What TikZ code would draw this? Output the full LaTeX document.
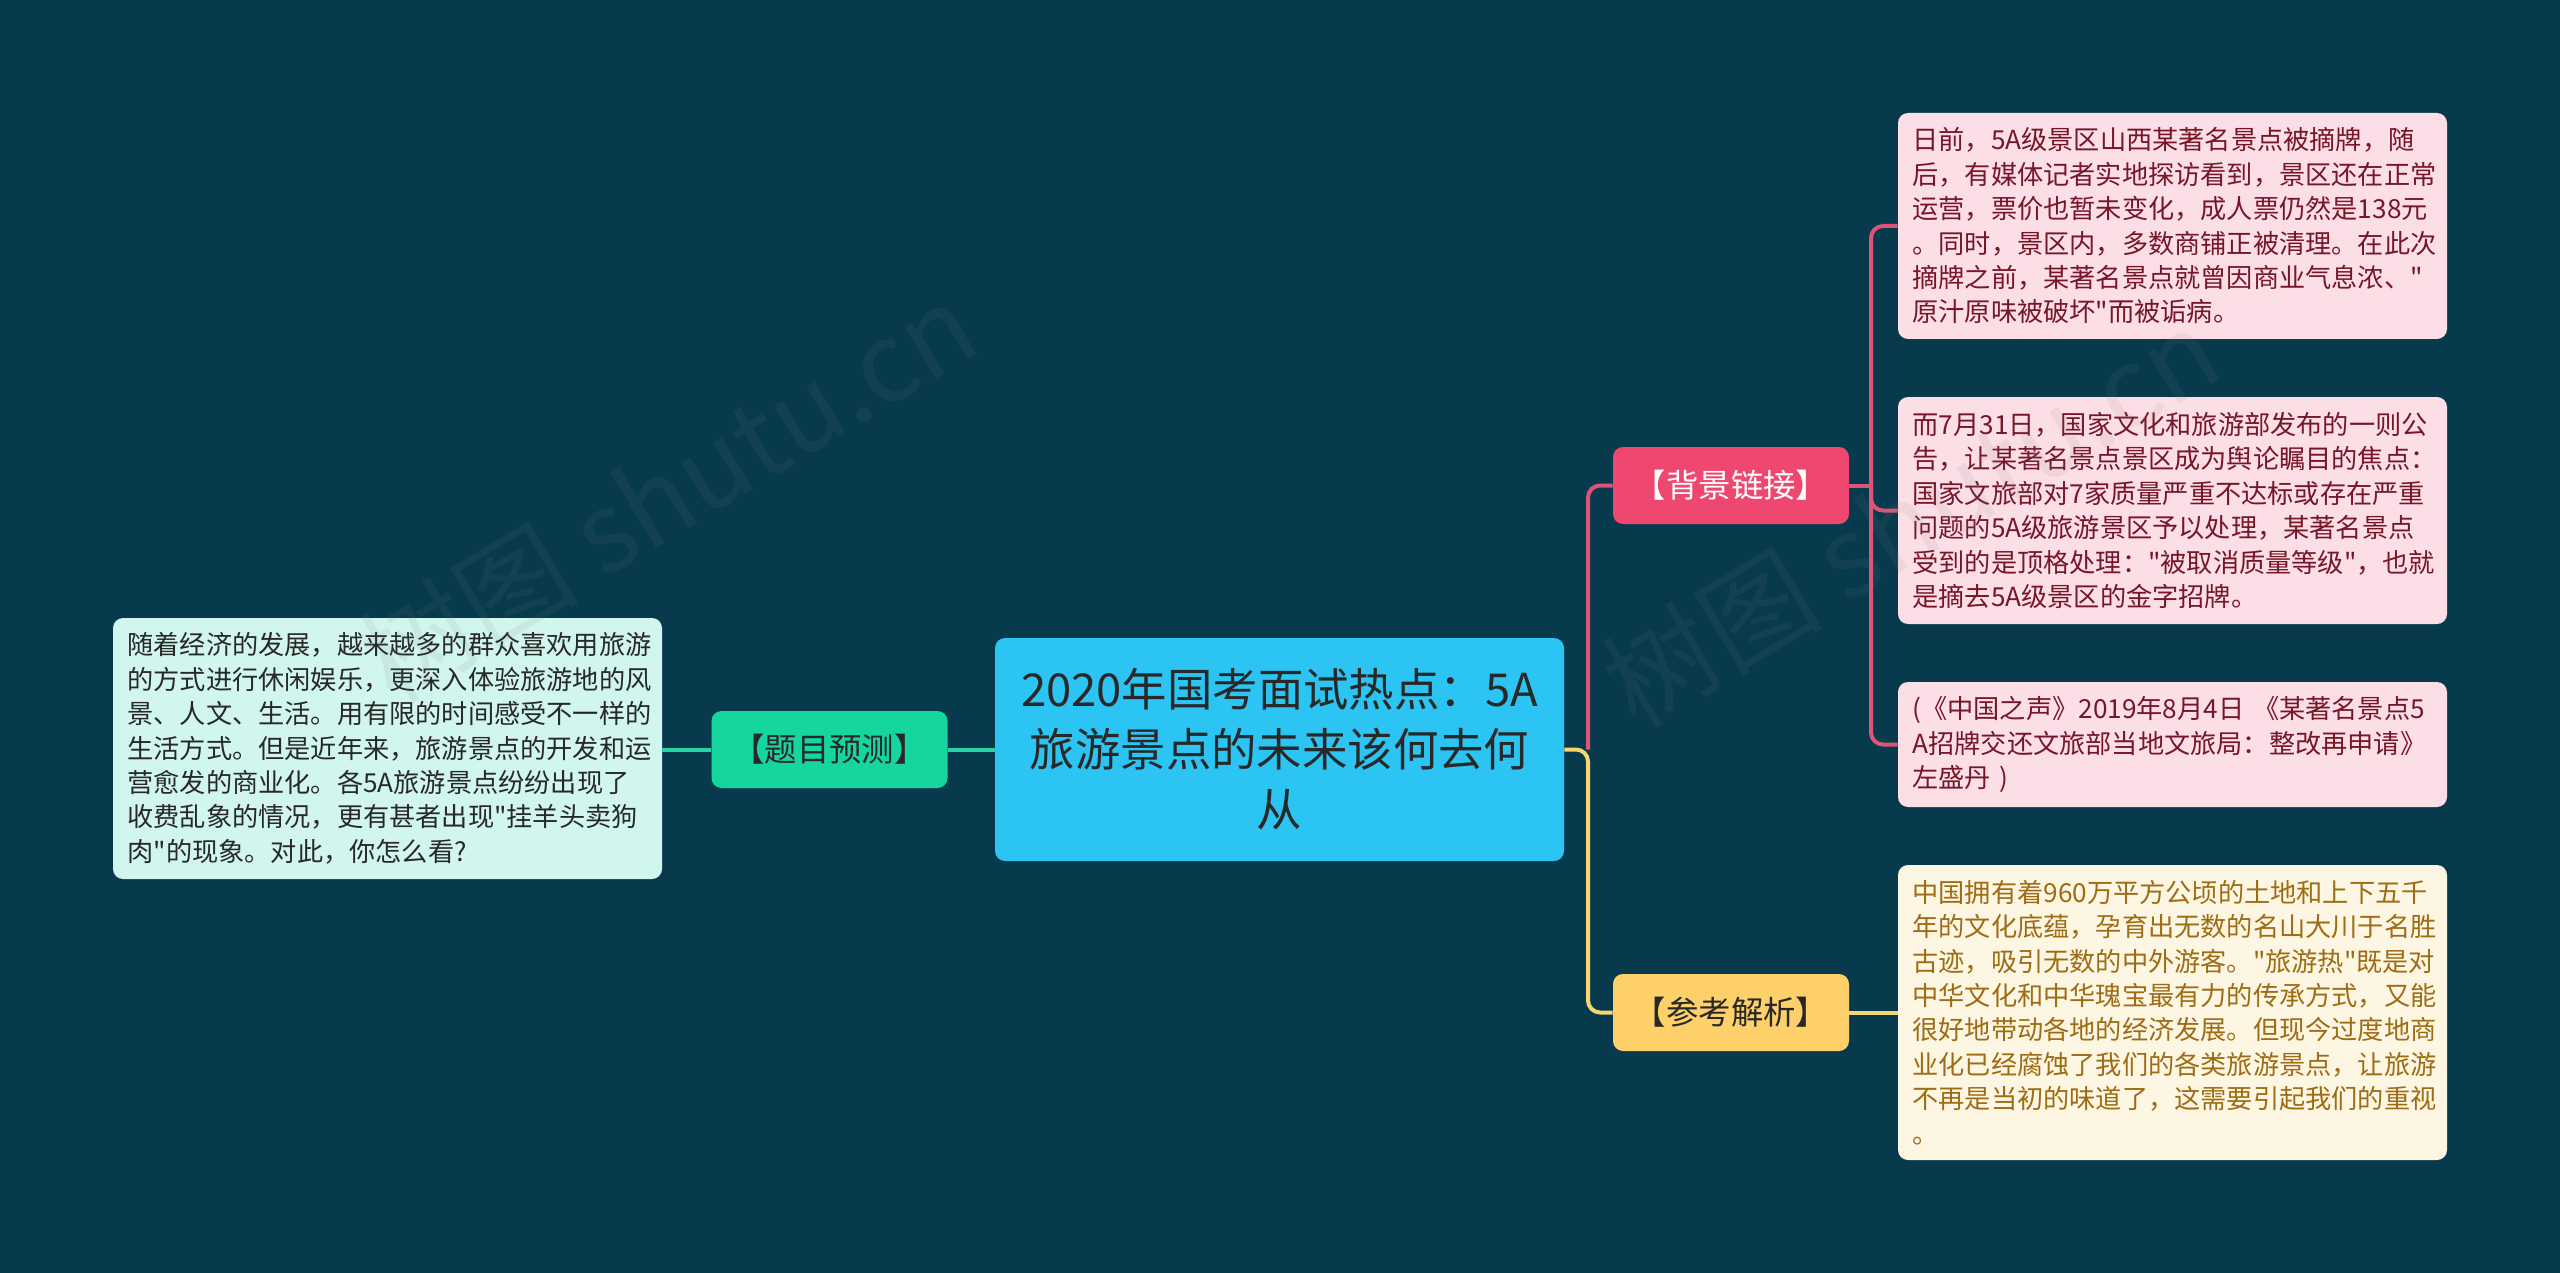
\documentclass[tikz,border=0pt]{standalone}
\usepackage{fontspec}
\newfontfamily\cjkfont{Noto Sans CJK SC}
\definecolor{bgc}{RGB}{7,58,77}
\definecolor{centerfill}{RGB}{44,196,242}
\definecolor{tealc}{RGB}{22,214,160}
\definecolor{tealline}{RGB}{40,210,165}
\definecolor{pinkc}{RGB}{238,72,113}
\definecolor{pinkline}{RGB}{222,84,120}
\definecolor{yelc}{RGB}{253,208,106}
\definecolor{yelline}{RGB}{246,214,110}
\definecolor{pinkleaf}{RGB}{252,223,230}
\definecolor{pinktext}{RGB}{118,22,40}
\definecolor{yelleaf}{RGB}{253,246,226}
\definecolor{yeltext}{RGB}{158,108,20}
\definecolor{mintleaf}{RGB}{208,246,237}
\definecolor{darktext}{RGB}{40,40,40}
\begin{document}
\begin{tikzpicture}[x=0.5pt,y=-0.5pt,
  box/.style={rounded corners=5pt, inner sep=0pt, align=center},
  centerbox/.style={box, fill=centerfill, text=darktext, minimum width=284.5pt, minimum height=111.5pt,
     font=\cjkfont\fontsize{22.7}{30}\selectfont},
  labelbox/.style={box, minimum width=118pt, minimum height=38.5pt, font=\cjkfont\fontsize{16.2}{19}\selectfont},
  leafbox/.style={rounded corners=5pt, inner xsep=7.25pt, inner ysep=0pt, text width=260pt, align=left,
     font=\cjkfont\fontsize{13.1}{17.2}\selectfont},
  conn/.style={line width=2pt, rounded corners=6pt},
  wm/.style={text=gray, opacity=0.1, font=\cjkfont\fontsize{55}{60}\selectfont, rotate=31}
]
\useasboundingbox[fill=bgc] (0,0) rectangle (2560,1273);

% central
\node[centerbox] (c) at (1279.5,749.5) {2020年国考面试热点：5A\\旅游景点的未来该何去何\\从};

% left
\node[labelbox, fill=tealc, text=darktext] (q) at (829.5,749.5) {【题目预测】};
\node[leafbox, fill=mintleaf, text=darktext, minimum height=130.5pt] (L) at (387.5,748.5)
 {随着经济的发展，越来越多的群众喜欢用旅游\\的方式进行休闲娱乐，更深入体验旅游地的风\\景、人文、生活。用有限的时间感受不一样的\\生活方式。但是近年来，旅游景点的开发和运\\营愈发的商业化。各5A旅游景点纷纷出现了\\收费乱象的情况，更有甚者出现"挂羊头卖狗\\肉"的现象。对此，你怎么看?};

% right labels
\node[labelbox, fill=pinkc, text=white] (bg) at (1731,485.5) {【背景链接】};
\node[labelbox, fill=yelc, text=darktext] (ck) at (1731,1012.5) {【参考解析】};

% right leaves
\node[leafbox, fill=pinkleaf, text=pinktext, minimum height=113pt] (r1) at (2172.5,226)
 {日前，5A级景区山西某著名景点被摘牌，随\\后，有媒体记者实地探访看到，景区还在正常\\运营，票价也暂未变化，成人票仍然是138元\\。同时，景区内，多数商铺正被清理。在此次\\摘牌之前，某著名景点就曾因商业气息浓、"\\原汁原味被破坏"而被诟病。};
\node[leafbox, fill=pinkleaf, text=pinktext, minimum height=113.5pt] (r2) at (2172.5,510.5)
 {而7月31日，国家文化和旅游部发布的一则公\\告，让某著名景点景区成为舆论瞩目的焦点：\\国家文旅部对7家质量严重不达标或存在严重\\问题的5A级旅游景区予以处理，某著名景点\\受到的是顶格处理："被取消质量等级"，也就\\是摘去5A级景区的金字招牌。};
\node[leafbox, fill=pinkleaf, text=pinktext, minimum height=62.5pt] (r3) at (2172.5,744.5)
 {(《中国之声》2019年8月4日 《某著名景点5\\A招牌交还文旅部当地文旅局：整改再申请》\\左盛丹 )};
\node[leafbox, fill=yelleaf, text=yeltext, minimum height=147.5pt] (r4) at (2172.5,1012.5)
 {中国拥有着960万平方公顷的土地和上下五千\\年的文化底蕴，孕育出无数的名山大川于名胜\\古迹，吸引无数的中外游客。"旅游热"既是对\\中华文化和中华瑰宝最有力的传承方式，又能\\很好地带动各地的经济发展。但现今过度地商\\业化已经腐蚀了我们的各类旅游景点，让旅游\\不再是当初的味道了，这需要引起我们的重视\\。};

% junction coordinates
\coordinate (j) at (1588,749.5);
\coordinate (k) at (1871,485.5);

% connectors
\draw[conn, tealline] (c.west) -- (q.west -| q.east);
\draw[conn, tealline] (q.west) -- (L.east |- q.west);
\draw[conn, pinkline] (j) |- (bg.west);
\draw[conn, pinkline] (bg.east) -- (k);
\draw[conn, pinkline] (r1.west) -| (k) |- (r3.west);
\draw[conn, pinkline] (k) |- (r2.west);
\draw[conn, yelline] (c.east) -- (j) |- (ck.west);
\draw[conn, yelline] (ck.east) -- (r4.west);

% watermarks (on top, faint)
\node[wm] (wm1) at (668,492) {树图 shutu.cn};
\node[wm] (wm2) at (1911,517) {树图 shutu.cn};
\end{tikzpicture}
\end{document}
